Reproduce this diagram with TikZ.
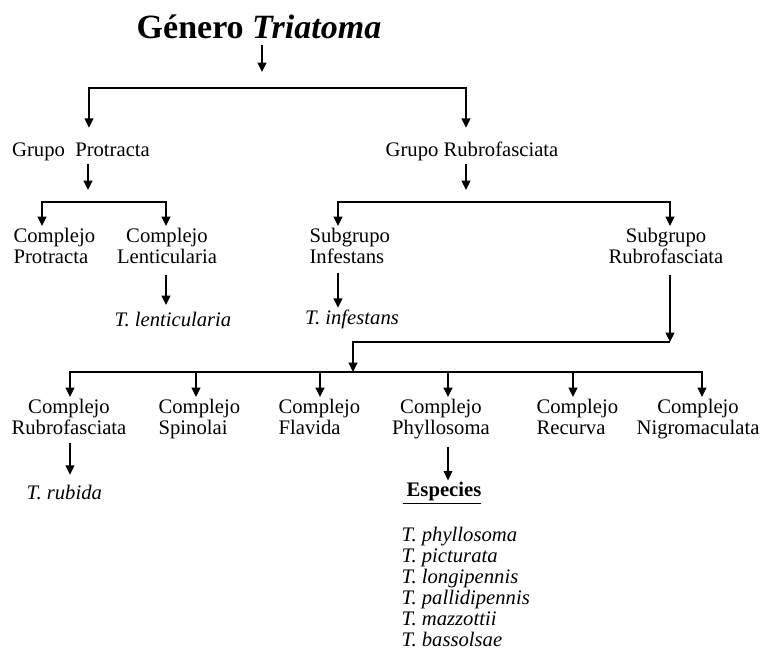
\documentclass[tikz,border=0pt]{standalone}
\usepackage{fontspec}
\setmainfont{Liberation Serif}
\usetikzlibrary{arrows.meta}
\begin{document}
\begin{tikzpicture}[x=0.75pt,y=-0.75pt,
  txt/.style={font=\fontsize{15.5}{16}\selectfont, inner sep=1pt},
  cen/.style={txt, align=center},
  lft/.style={txt, align=left, anchor=west},
  spc/.style={txt, anchor=west, font=\fontsize{15.5}{16}\selectfont\itshape},
  ln/.style={line width=1.2pt},
  arr/.style={ln, -{Triangle[width=6.5pt,length=7pt]}},
]
\path[use as bounding box, fill=white] (0,0) rectangle (763,654);

% nodes
\node[inner sep=1pt, font=\fontsize{25.5}{28}\selectfont\bfseries] (title) at (259,27) {Género \textit{Triatoma}};
\node[txt] (gp) at (81,152) {\strut Grupo\ \ Protracta};
\node[txt] (gr) at (472,152) {\strut Grupo Rubrofasciata};
\node[lft] (cp) at (12,249) {\strut Complejo\\Protracta\strut};
\node[cen] (cl) at (167,249) {\strut Complejo\\Lenticularia\strut};
\node[lft] (si) at (308,249) {\strut Subgrupo\\Infestans\strut};
\node[cen] (sr) at (666,249) {\strut Subgrupo\\Rubrofasciata\strut};
\node[spc] (tl) at (113,322) {\strut T. lenticularia};
\node[spc, anchor=center] (ti) at (352,320) {\strut T. infestans};

\node[cen] (cr) at (69,420) {\strut Complejo\\Rubrofasciata\strut};
\node[lft] (cs) at (157,420) {\strut Complejo\\Spinolai\strut};
\node[lft] (cf) at (277,420) {\strut Complejo\\Flavida\strut};
\node[cen] (cph) at (441,420) {\strut Complejo\\Phyllosoma\strut};
\node[lft] (crc) at (535,420) {\strut Complejo\\Recurva\strut};
\node[cen] (cn) at (698,420) {\strut Complejo\\Nigromaculata\strut};

\node[spc] (tr) at (25,495) {\strut T. rubida};
\node[txt] (esp) at (442,493) {\strut\underline{\hspace{3pt}\textbf{Especies}}};
\node[spc] (s1) at (400,537) {\strut T. phyllosoma};
\node[spc] (s2) at (400,558) {\strut T. picturata};
\node[spc] (s3) at (400,579) {\strut T. longipennis};
\node[spc] (s4) at (400,600) {\strut T. pallidipennis};
\node[spc] (s5) at (400,621) {\strut T. mazzottii};
\node[spc] (s6) at (400,642) {\strut T. bassolsae};

% coordinates
\coordinate (t1) at (262,72);
\coordinate (b1L) at (89,88);
\coordinate (b1R) at (466,88);
\coordinate (p1) at (88,190);
\coordinate (b2L) at (42,202);
\coordinate (b2R) at (166,202);
\coordinate (p2) at (466,190);
\coordinate (b3L) at (338,202);
\coordinate (b3R) at (670,202);
\coordinate (c1) at (670,342);
\coordinate (c2) at (353,342);
\coordinate (b4) at (353,372);
\coordinate (d1) at (70,372);
\coordinate (d2) at (196,372);
\coordinate (d3) at (320,372);
\coordinate (d4) at (448,372);
\coordinate (d5) at (573,372);
\coordinate (d6) at (702,372);

% connectors
\draw[arr, shorten <=3pt] (title.south -| t1) -- (t1);
\draw[arr, shorten >=9pt] (b1R) -- (b1L) -- (gp.north -| b1L);
\draw[arr, shorten >=9pt] (b1L) -- (b1R) -- (gr.north -| b1R);

\draw[arr] (gp.south -| p1) -- (p1);
\draw[arr] (b2R) -- (b2L) -- (cp.north -| b2L);
\draw[arr] (b2L) -- (b2R) -- (cl.north -| b2R);
\draw[arr, shorten <=2pt, shorten >=3.5pt] (cl.south -| b2R) -- (tl.north -| b2R);

\draw[arr] (gr.south -| p2) -- (p2);
\draw[arr] (b3R) -- (b3L) -- (si.north -| b3L);
\draw[arr] (b3L) -- (b3R) -- (sr.north -| b3R);
\draw[arr, shorten <=1pt] (si.south -| b3L) -- (ti.north -| b3L);
\draw[arr, shorten <=2pt] (sr.south -| c1) -- (c1);
\draw[arr] (c1) -- (c2) -- (b4);

\draw[arr] (b4) -- (d1) -- (cr.north -| d1);
\draw[arr] (b4) -- (d2) -- (cs.north -| d2);
\draw[arr] (b4) -- (d3) -- (cf.north -| d3);
\draw[arr] (b4) -- (d4) -- (cph.north -| d4);
\draw[arr] (b4) -- (d5) -- (crc.north -| d5);
\draw[arr] (b4) -- (d6) -- (cn.north -| d6);

\draw[arr, shorten >=6pt] (cr.south -| d1) -- (tr.north -| d1);
\draw[arr, shorten <=3pt] (cph.south -| d4) -- (esp.north -| d4);
\end{tikzpicture}
\end{document}
